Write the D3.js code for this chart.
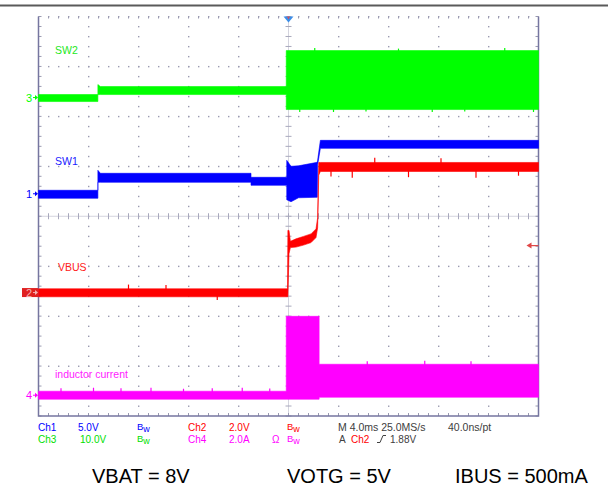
<!DOCTYPE html>
<html><head><meta charset="utf-8">
<script src="https://cdn.jsdelivr.net/npm/d3@7"></script>
<style>html,body{margin:0;padding:0;background:#fff}svg{display:block}</style>
</head><body>
<svg id="c" width="608" height="487"></svg>
<script>
// Horizontal: 4 ms/div, 10 divisions, trigger at the centre
const timeDomain = [-20, 20];
const majorTimes = [-16, -12, -8, -4, 4, 8, 12, 16];
const majorDivs = [-3, -2, -1, 1, 2, 3, 4];

// Ch3 – SW2 (10 V/div), envelope of the trace (min / max)
const sw2Time = [-20, -15.25, -15.25, -15.05, -0.18, -0.18, 20];
const sw2Lo   = [-0.8, -0.8, 0.6, 0.6, 0.6, -2.4, -2.4];
const sw2Hi   = [0.6, 0.6, 2.6, 2.2, 2.2, 9.4, 9.4];

// Ch1 – SW1 (5 V/div)
const sw1Time = [-20, -15.25, -15.25, -15.05, -3.0, -3.0, -0.14, -0.14, 0.2, 0.8, 2.3, 2.33, 2.55, 20];
const sw1Lo   = [-0.45, -0.45, 1.15, 1.15, 1.15, 0.85, 0.85, -0.6, -0.8, -0.4, -0.35, 2.9, 4.55, 4.55];
const sw1Hi   = [0.35, 0.35, 2.35, 2.05, 2.05, 1.65, 1.65, 3.35, 2.75, 2.8, 3.15, 3.35, 5.35, 5.35];

// Ch2 – VBUS (2 V/div)
const vbusTime = [-20, -0.08, -0.05, 0.04, 0.15, 0.6, 1.2, 1.8, 2.2, 2.33, 2.42, 2.55, 20];
const vbusLo   = [-0.17, -0.17, -0.17, 1.55, 1.8, 1.82, 1.9, 2.0, 2.2, 2.6, 4.7, 4.85, 4.85];
const vbusHi   = [0.15, 0.15, 2.49, 2.49, 2.05, 2.15, 2.25, 2.35, 2.55, 3.0, 5.21, 5.21, 5.21];

// Ch4 – inductor current (2 A/div)
const ilTime = [-20, -0.18, -0.18, 2.45, 2.45, 20];
const ilLo   = [-0.16, -0.16, -0.16, -0.16, -0.08, -0.08];
const ilHi   = [0.16, 0.16, 3.16, 3.16, 1.24, 1.24];

// Occasional glitches seen on the traces (time, peak value)
const vbusGlitchT = [-12.8, -9.8, -5.7, 3.4, 5.1, 6.9, 9.6, 12.2, 15.0, 18.4];
const vbusGlitchV = [0.32, 0.3, -0.3, 4.65, 4.6, 5.4, 4.62, 5.38, 4.6, 4.68];
const ilGlitchT = [-18.2, -15.6, -13.4, -11.0, -8.4, -6.1, -3.7, -1.5, 6.3, 10.9, 14.6];
const ilGlitchV = [0.28, 0.3, 0.28, 0.3, 0.26, 0.28, 0.3, 0.27, 1.36, 1.38, 1.36];
const sw2GlitchT = [0.9, 2.1, 3.6, 6.2, 8.8, 11.5, 14.1, 17.3, 19.6];
const sw2GlitchV = [-2.9, 9.9, -2.9, -2.8, 9.8, -2.9, -2.8, 9.9, -2.9];

// Trigger level on Ch2
const triggerLevel = 1.88;

const font = "'Liberation Sans', Arial, sans-serif";
const svg = d3.select('#c');
const x = d3.scaleLinear().domain(timeDomain).range([38.5, 538.5]);
const y = d3.scaleLinear().domain([-4, 4]).range([416, 16.5]);

const ch = {
  sw1:  {off: 0.45,   perDiv: 5,  color: '#0000ff'},
  vbus: {off: -1.528, perDiv: 2,  color: '#ff0000'},
  sw2:  {off: 2.377,  perDiv: 10, color: '#00ff00'},
  il:   {off: -3.584, perDiv: 2,  color: '#ff00ff'}
};
const yv = (c, v) => y(c.off + v / c.perDiv);

// top rule
svg.append('rect').attr('x', 0).attr('y', 4.5).attr('width', 608).attr('height', 2).attr('fill', '#5a5a5a');

// graticule
const g = svg.append('g');
const dot = '#9a9ab0';
const minorT = d3.range(-20, 20.001, 0.8);
const minorD = d3.range(-4, 4.001, 0.2);
majorDivs.forEach(d => {
  minorT.forEach(t => {
    if (t > -20 && t < 20) g.append('rect').attr('x', x(t) - 0.5).attr('y', y(d) - 0.5).attr('width', 1.4).attr('height', 1.4).attr('fill', dot);
  });
});
majorTimes.forEach(t => {
  minorD.forEach(d => {
    if (d > -4 && d < 4) g.append('rect').attr('x', x(t) - 0.5).attr('y', y(d) - 0.5).attr('width', 1.4).attr('height', 1.4).attr('fill', dot);
  });
});
// centre cross: fine dotted lines with ticks
g.append('line').attr('x1', x(-20)).attr('x2', x(20)).attr('y1', y(0)).attr('y2', y(0))
  .attr('stroke', '#a8a8bc').attr('stroke-width', 1).attr('stroke-dasharray', '1,1');
g.append('line').attr('x1', x(0)).attr('x2', x(0)).attr('y1', y(4)).attr('y2', y(-4))
  .attr('stroke', '#a8a8bc').attr('stroke-width', 1).attr('stroke-dasharray', '1,1');
minorT.forEach(t => g.append('line').attr('x1', x(t)).attr('x2', x(t)).attr('y1', y(0) - 3).attr('y2', y(0) + 3).attr('stroke', '#a8a8bc'));
minorD.forEach(d => g.append('line').attr('x1', x(0) - 3).attr('x2', x(0) + 3).attr('y1', y(d)).attr('y2', y(d)).attr('stroke', '#a8a8bc'));
// edge ticks
minorD.forEach(d => {
  g.append('line').attr('x1', x(-20)).attr('x2', x(-20) + 3).attr('y1', y(d)).attr('y2', y(d)).attr('stroke', dot);
  g.append('line').attr('x1', x(20) - 3).attr('x2', x(20)).attr('y1', y(d)).attr('y2', y(d)).attr('stroke', dot);
});
minorT.forEach(t => {
  g.append('line').attr('x1', x(t)).attr('x2', x(t)).attr('y1', y(-4) - 3).attr('y2', y(-4)).attr('stroke', dot);
  g.append('line').attr('x1', x(t)).attr('x2', x(t)).attr('y1', y(4)).attr('y2', y(4) + 2).attr('stroke', dot);
});
// frame (left, right, bottom)
g.append('path').attr('d', `M${x(-20)},${y(4)}V${y(-4)}H${x(20)}V${y(4)}`)
  .attr('fill', 'none').attr('stroke', '#7676a0').attr('stroke-width', 1.5);

// traces
function trace(c, ts, lo, hi) {
  const pts = ts.map((t, i) => ({t, lo: lo[i], hi: hi[i]}));
  const area = d3.area().x(d => x(d.t)).y0(d => yv(c, d.lo)).y1(d => yv(c, d.hi));
  svg.append('path').datum(pts).attr('d', area).attr('fill', c.color)
    .attr('stroke', c.color).attr('stroke-width', 0.6);
}
function glitches(c, ts, vs, base) {
  ts.forEach((t, i) => svg.append('line').attr('x1', x(t)).attr('x2', x(t))
    .attr('y1', yv(c, base(t))).attr('y2', yv(c, vs[i])).attr('stroke', c.color).attr('stroke-width', 1.2));
}
trace(ch.sw2, sw2Time, sw2Lo, sw2Hi);
glitches(ch.sw2, sw2GlitchT, sw2GlitchV, () => 4);
trace(ch.sw1, sw1Time, sw1Lo, sw1Hi);
trace(ch.il, ilTime, ilLo, ilHi);
trace(ch.vbus, vbusTime, vbusLo, vbusHi);
glitches(ch.vbus, vbusGlitchT, vbusGlitchV, t => t < 0 ? 0 : 5.0);
glitches(ch.il, ilGlitchT, ilGlitchV, t => t < 0 ? 0 : 1.1);

// trace names
const lab = (txt, px, py, color, size) => svg.append('text').attr('x', px).attr('y', py)
  .attr('font-family', font).attr('font-size', size || 10.5).attr('fill', color).text(txt);
lab('SW2', 55, 54, '#22e822');
lab('SW1', 55, 165, '#1a1aff');
lab('VBUS', 58, 271, '#ff2020');
lab('inductor current', 55, 378, '#ff20ff');

// channel ground markers
function marker(label, c, boxed) {
  const py = yv(c, 0);
  if (boxed) {
    svg.append('rect').attr('x', 22).attr('y', py - 4.5).attr('width', 16).attr('height', 9).attr('fill', '#e02020');
  }
  svg.append('text').attr('x', 26).attr('y', py + 4).attr('font-family', font).attr('font-size', 11)
    .attr('fill', boxed ? '#f6b0b0' : c.color).text(label);
  const col = boxed ? '#f6b0b0' : c.color;
  svg.append('line').attr('x1', 33).attr('x2', 37).attr('y1', py).attr('y2', py).attr('stroke', col);
  svg.append('path').attr('d', `M35,${py - 2.5}L38,${py}L35,${py + 2.5}Z`).attr('fill', col);
}
marker('3', ch.sw2);
marker('1', ch.sw1);
marker('2', ch.vbus, true);
marker('4', ch.il);

// trigger position (top) and trigger level (right)
svg.append('path').attr('d', `M${x(0) - 5},${y(4)}L${x(0) + 5},${y(4)}L${x(0)},${y(4) + 6}Z`).attr('fill', '#3c8ee8');
svg.append('path').attr('d', `M${x(0) - 1.5},${y(4)}L${x(0) + 1.5},${y(4)}L${x(0)},${y(4) + 3}Z`).attr('fill', '#d05060');
const ty = yv(ch.vbus, triggerLevel);
svg.append('line').attr('x1', x(20) - 8).attr('x2', x(20)).attr('y1', ty).attr('y2', ty).attr('stroke', '#e04848').attr('stroke-width', 1.2);
svg.append('path').attr('d', `M${x(20) - 12},${ty}L${x(20) - 7},${ty - 3}L${x(20) - 7},${ty + 3}Z`).attr('fill', '#e04848');

// settings readout
function bw(px, py, color) {
  const t = svg.append('text').attr('x', px).attr('y', py).attr('font-family', font).attr('fill', color);
  t.append('tspan').attr('font-size', 9.5).attr('dy', -1).text('B');
  t.append('tspan').attr('font-size', 9).attr('dy', 2).text('w');
}
const r1 = 431, r2 = 442.5;
lab('Ch1', 38, r1, '#0000ff', 10); lab('5.0V', 78, r1, '#0000ff', 10); bw(137, r1, '#0000ff');
lab('Ch2', 188, r1, '#ff0000', 10); lab('2.0V', 229, r1, '#ff0000', 10); bw(287, r1, '#ff0000');
lab('M 4.0ms 25.0MS/s', 338, r1, '#404040', 10.5); lab('40.0ns/pt', 448, r1, '#404040', 10.5);
lab('Ch3', 38, r2, '#00e000', 10); lab('10.0V', 80, r2, '#00e000', 10); bw(137, r2, '#00e000');
lab('Ch4', 188, r2, '#ff00ff', 10); lab('2.0A', 229, r2, '#ff00ff', 10); lab('Ω', 272, r2, '#ff00ff', 10); bw(287, r2, '#ff00ff');
lab('A', 339, r2, '#404040', 10); lab('Ch2', 351, r2, '#ff0000', 10);
svg.append('path').attr('d', `M377,${r2}H380L383,${r2 - 7}H386`).attr('fill', 'none').attr('stroke', '#404040');
lab('1.88V', 390, r2, '#404040', 10);

// test conditions
lab('VBAT = 8V', 92, 483, '#000', 20);
lab('VOTG = 5V', 287, 483, '#000', 20);
lab('IBUS = 500mA', 455, 483, '#000', 20);
</script>
</body></html>
